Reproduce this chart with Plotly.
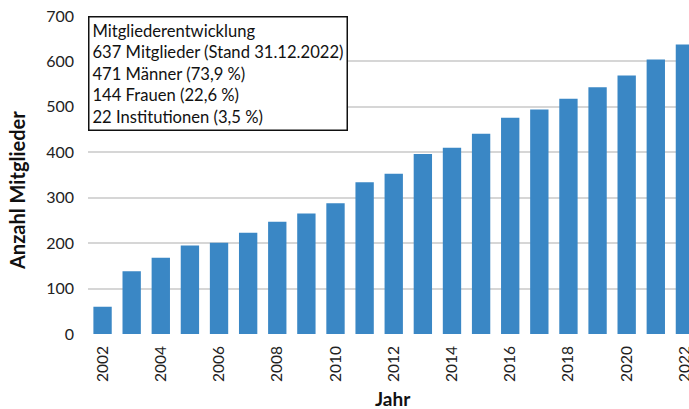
import plotly.graph_objects as go

years = list(range(2002, 2023))
members = [60, 138, 168, 195, 201, 223, 247, 265, 288, 334, 353, 396, 410, 441, 476, 494, 518, 543, 569, 604, 637]
y_ticks = [0, 100, 200, 300, 400, 500, 600, 700]
info_lines = [
    "Mitgliederentwicklung",
    "637 Mitglieder (Stand 31.12.2022)",
    "471 Männer (73,9 %)",
    "144 Frauen (22,6 %)",
    "22 Institutionen (3,5 %)",
]

FONT = "Lato"
W, H = 689, 409
ML, MR, MT, MB = 88, 0, 16, 75

fig = go.Figure()
fig.add_trace(go.Bar(
    x=years, y=members,
    marker=dict(color="#3A87C5", line=dict(width=0)),
    width=0.63,
))

fig.update_layout(
    width=W, height=H,
    margin=dict(l=ML, r=MR, t=MT, b=MB, autoexpand=False),
    paper_bgcolor="white", plot_bgcolor="white",
    showlegend=False,
    font=dict(family=FONT, color="#222"),
    xaxis=dict(
        range=[2001.5, 2022.14], automargin=False,
        tickmode="array", tickvals=years[::2], ticktext=[str(y) for y in years[::2]],
        tickangle=-90, ticklabeloverflow="allow",
        tickfont=dict(family=FONT, size=15.5, color="#222"),
        showgrid=False, zeroline=False, showline=False,
        ticks="", ticklabelstandoff=8,
    ),
    yaxis=dict(
        range=[0, 700], automargin=False,
        tickmode="array", tickvals=y_ticks,
        tickfont=dict(family=FONT, size=16, color="#222"),
        showgrid=True, gridcolor="#D6D6D6", gridwidth=1.5,
        zeroline=False, showline=False, ticks="", ticklabelstandoff=13,
    ),
    bargap=0.37,
)

plot_h = H - MT - MB
plot_w = W - ML - MR

# Axis titles
fig.add_annotation(
    xref="paper", yref="paper", x=-(ML - 17) / plot_w, y=(H - MB - 191) / plot_h,
    text="<b>Anzahl Mitglieder</b>", textangle=-90, showarrow=False,
    xanchor="center", yanchor="middle",
    font=dict(family=FONT, size=20, color="#111"),
)
fig.add_annotation(
    xref="paper", yref="paper", x=(393 - ML) / plot_w, y=-(398 - (H - MB)) / plot_h,
    text="<b>Jahr</b>", showarrow=False, xanchor="center", yanchor="middle",
    font=dict(family=FONT, size=19, color="#111"),
)

fig.add_annotation(
    xref="paper", yref="paper", x=0, y=1, xanchor="left", yanchor="top",
    text="<br>".join(info_lines), align="left", showarrow=False,
    font=dict(family=FONT, size=16.6, color="#111"),
    bordercolor="#111", borderwidth=1.5, borderpad=3, bgcolor="white",
)

fig.write_html(
    "out.html",
    config={"displayModeBar": False},
    post_script="document.body.style.margin='0';document.body.style.overflow='hidden';",
)
